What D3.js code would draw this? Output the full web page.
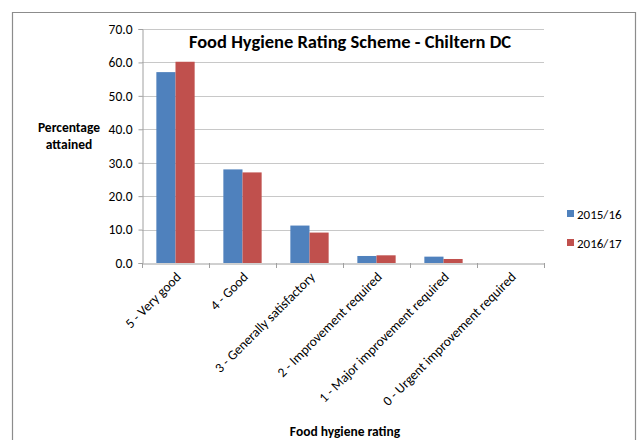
<!DOCTYPE html>
<html>
<head>
<meta charset="utf-8">
<script src="https://cdn.jsdelivr.net/npm/d3@7/dist/d3.min.js"></script>
<style>
  html, body { margin: 0; padding: 0; background: #fff; }
  svg { display: block; }
</style>
</head>
<body>
<div id="chart"></div>
<script>
(function () {
  var categories = [
    "5 - Very good",
    "4 - Good",
    "3 - Generally satisfactory",
    "2 - Improvement required",
    "1 - Major improvement required",
    "0 - Urgent improvement required"
  ];
  var seriesNames = ["2015/16", "2016/17"];
  var values2015 = [57.1, 28.0, 11.2, 2.1, 1.9, 0];
  var values2016 = [60.2, 27.1, 9.1, 2.3, 1.2, 0];
  var yTicks = [0, 10, 20, 30, 40, 50, 60, 70];

  var colors = ["#4f81bd", "#c0504d"];
  var font = "Carlito, 'Open Sans', sans-serif";

  var width = 640, height = 440;
  var margin = {left: 142, right: 96, top: 29, bottom: 177};

  var svg = d3.select("#chart").append("svg")
    .attr("width", width)
    .attr("height", height);

  // outer chart frame (bottom edge is cut off in the picture)
  svg.append("path")
    .attr("d", "M12.5,450V12.5H635.5V450")
    .attr("fill", "none")
    .attr("stroke", "#8c8c8c")
    .attr("stroke-width", 1.2);

  var x = d3.scaleBand()
    .domain(categories)
    .range([margin.left, width - margin.right]);

  var inner = d3.scaleBand()
    .domain(seriesNames)
    .range([0, x.bandwidth()])
    .paddingInner(0)
    .paddingOuter(0.75);

  var y = d3.scaleLinear()
    .domain([0, 70])
    .range([height - margin.bottom, margin.top]);

  // gridlines
  svg.append("g")
    .selectAll("line")
    .data(yTicks.filter(function (d) { return d > 0; }))
    .join("line")
    .attr("x1", margin.left)
    .attr("x2", width - margin.right)
    .attr("y1", function (d) { return Math.round(y(d)) + 0.5; })
    .attr("y2", function (d) { return Math.round(y(d)) + 0.5; })
    .attr("stroke", "#c8c8c8")
    .attr("stroke-width", 1);

  // y axis
  var yAxis = svg.append("g")
    .attr("transform", "translate(" + (margin.left + 0.5) + ",0)")
    .call(d3.axisLeft(y).tickValues(yTicks).tickSize(4).tickPadding(6)
      .tickFormat(d3.format(".1f")));
  yAxis.select(".domain").attr("stroke", "#a0a0a0");
  yAxis.selectAll(".tick line").attr("stroke", "#a0a0a0");
  yAxis.selectAll("text")
    .attr("font-family", font)
    .attr("font-size", 13.5)
    .attr("fill", "#000");

  // bars
  var data = categories.map(function (c, i) {
    return {cat: c, vals: [values2015[i], values2016[i]]};
  });

  var groups = svg.append("g")
    .selectAll("g")
    .data(data)
    .join("g")
    .attr("transform", function (d) { return "translate(" + x(d.cat) + ",0)"; });

  groups.selectAll("rect")
    .data(function (d) {
      return d.vals.map(function (v, j) { return {name: seriesNames[j], v: v, j: j}; });
    })
    .join("rect")
    .attr("x", function (d) { return inner(d.name); })
    .attr("width", inner.bandwidth())
    .attr("y", function (d) { return y(d.v); })
    .attr("height", function (d) { return y(0) - y(d.v); })
    .attr("fill", function (d) { return colors[d.j]; });

  // x axis
  var xAxis = svg.append("g")
    .attr("transform", "translate(0," + (Math.round(y(0)) + 0.5) + ")")
    .call(d3.axisBottom(x).tickSize(0).tickPadding(0));
  xAxis.select(".domain").attr("stroke", "#a0a0a0");
  xAxis.selectAll(".tick text")
    .attr("font-family", font)
    .attr("font-size", 13.5)
    .attr("fill", "#000")
    .attr("text-anchor", "end")
    .attr("transform", "translate(3,11) rotate(-45)")
    .attr("dy", "0.35em")
    .attr("y", 0);

  // category separator ticks
  svg.append("g")
    .selectAll("line")
    .data(d3.range(categories.length + 1))
    .join("line")
    .attr("x1", function (i) { return Math.round(margin.left + i * x.step()) + 0.5; })
    .attr("x2", function (i) { return Math.round(margin.left + i * x.step()) + 0.5; })
    .attr("y1", y(0))
    .attr("y2", y(0) + 5)
    .attr("stroke", "#a0a0a0");

  // title
  svg.append("text")
    .attr("x", 350)
    .attr("y", 48)
    .attr("text-anchor", "middle")
    .attr("font-family", font)
    .attr("font-size", 18.5)
    .attr("font-weight", "bold")
    .text("Food Hygiene Rating Scheme - Chiltern DC");

  // y axis title
  var yt = svg.append("text")
    .attr("text-anchor", "middle")
    .attr("font-family", font)
    .attr("font-size", 13.5)
    .attr("font-weight", "bold");
  yt.append("tspan").attr("x", 69).attr("y", 132).text("Percentage");
  yt.append("tspan").attr("x", 69).attr("y", 149).text("attained");

  // x axis title
  svg.append("text")
    .attr("x", 345)
    .attr("y", 436)
    .attr("text-anchor", "middle")
    .attr("font-family", font)
    .attr("font-size", 13.5)
    .attr("font-weight", "bold")
    .text("Food hygiene rating");

  // legend
  var legend = svg.append("g")
    .selectAll("g")
    .data(seriesNames)
    .join("g")
    .attr("transform", function (d, i) { return "translate(567," + (214 + i * 29) + ")"; });
  legend.append("rect")
    .attr("x", 0)
    .attr("y", -4)
    .attr("width", 7)
    .attr("height", 7)
    .attr("fill", function (d, i) { return colors[i]; });
  legend.append("text")
    .attr("x", 10)
    .attr("y", 0)
    .attr("dy", "0.35em")
    .attr("font-family", font)
    .attr("font-size", 13)
    .text(function (d) { return d; });
})();
</script>
</body>
</html>
